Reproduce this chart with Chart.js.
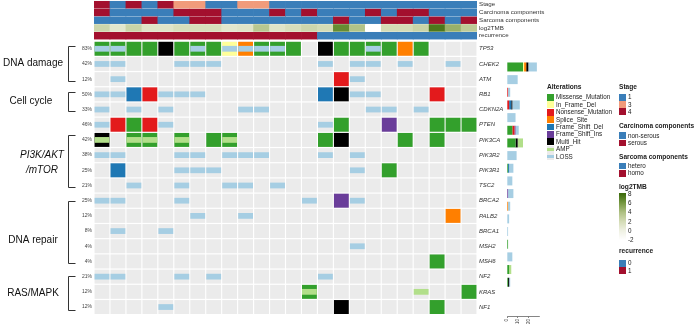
<!DOCTYPE html>
<html>
<head>
<meta charset="utf-8">
<title>Oncoprint</title>
<script src="https://cdn.jsdelivr.net/npm/chart.js@4.4.1/dist/chart.umd.min.js"></script>
<style>
  html, body { margin: 0; padding: 0; background: #fff; }
  body { position: relative; width: 694px; height: 325px; overflow: hidden; font-family: "Liberation Sans", Arial, sans-serif; }
  canvas { position: absolute; top: 0; }
  #oncoChart { left: 0; }
  #countChart { left: 500px; }
  .lg { position: absolute; white-space: nowrap; color: #222; font-size: 6.3px; height: 10px; line-height: 10px; }
  .lg.title { font-weight: bold; font-size: 6.6px; }
  .sw { position: absolute; }
</style>
</head>
<body>
<canvas id="oncoChart" width="694" height="325"></canvas>
<canvas id="countChart" width="44" height="325"></canvas>
<div id="legend"></div>
<script>
const FONT = '"Liberation Sans", Arial, sans-serif';
Chart.defaults.font.family = FONT;
Chart.defaults.color = '#333';

// samples (columns of the oncoprint)
const samples = ['P1', 'P2', 'P3', 'P4', 'P5', 'P6', 'P7', 'P8', 'P9', 'P10', 'P11', 'P12',
                 'P13', 'P14', 'P15', 'P16', 'P17', 'P18', 'P19', 'P20', 'P21', 'P22', 'P23', 'P24'];

const genes = ['TP53', 'CHEK2', 'ATM', 'RB1', 'CDKN2A', 'PTEN', 'PIK3CA', 'PIK3R2', 'PIK3R1',
               'TSC2', 'BRCA2', 'PALB2', 'BRCA1', 'MSH2', 'MSH6', 'NF2', 'KRAS', 'NF1'];
const pctLabels = ['83%', '42%', '12%', '50%', '33%', '46%', '42%', '38%', '25%',
                   '21%', '25%', '12%', '8%', '4%', '4%', '21%', '12%', '12%'];

// alterations per gene, samples in groups of 4
// M missense, I in-frame del, N nonsense, S splice, D frameshift del, F frameshift ins, X multi hit, A amp, L loss
const tp53   = 'ML ML M M | X M ML M | IL SL ML ML | M . X M | M ML M S | M . . .';
const chek2  = 'L L . . | . L L L | . . . . | . . L . | L L . L | . . L .';
const atm    = '. L . . | . . . . | . . . . | . . . N | L . . . | . . . .';
const rb1    = 'L L D N | L L L . | . . . . | . . D X | L L . . | . N . .';
const cdkn2a = 'L . L . | L . . . | . L L . | . . . . | . L L . | L . . .';
const pten   = 'L N M N | L . . . | . . . . | . . L M | . . F . | . M M M';
const pik3ca = 'XA . MA MA | . MA . M | MA . . . | . . M X | . . . M | . M . .';
const pik3r2 = 'L L . . | . L L . | L L L . | . . L . | L . . . | . . . .';
const pik3r1 = '. D . . | . L L L | . . . . | . . . . | L . M . | . . . .';
const tsc2   = '. . L . | . L . . | L L . L | . . . . | . . . . | . . . .';
const brca2  = 'L L . . | . L . . | . . . . | . L . F | L . . . | . . . .';
const palb2  = '. . . . | . . L . | . L . . | . . . . | . . . . | . . S .';
const brca1  = '. L . . | L . . . | . . . . | . . . . | . . . . | . . . .';
const msh2   = '. . . . | . . . . | . . . . | . . . . | L . . . | . . . .';
const msh6   = '. . . . | . . . . | . . . . | . . . . | . . . . | . M . .';
const nf2    = 'L L . . | . L . L | . . . . | . . L . | . . . . | . . . .';
const kras   = '. . . . | . . . . | . . . . | . MA . . | . . . . | A . . M';
const nf1    = '. . . . | L . . . | . . . . | . . . X | . . . . | . M . .';

// sample annotations
const stage = [4, 1, 4, 1, 4, 3, 3, 1, 1, 3, 3, 1, 1, 1, 1, 1, 1, 1, 1, 1, 1, 1, 1, 1];
const carcinoma = ['serous', 'non-serous', 'non-serous', 'non-serous', 'non-serous', 'serous', 'serous', 'serous',
                   'non-serous', 'non-serous', 'non-serous', 'serous', 'non-serous', 'serous', 'non-serous', 'non-serous',
                   'non-serous', 'serous', 'non-serous', 'serous', 'serous', 'non-serous', 'non-serous', 'non-serous'];
const sarcoma = ['hetero', 'hetero', 'hetero', 'homo', 'hetero', 'hetero', 'homo', 'homo',
                 'hetero', 'hetero', 'hetero', 'hetero', 'hetero', 'hetero', 'hetero', 'homo',
                 'hetero', 'hetero', 'homo', 'homo', 'hetero', 'homo', 'hetero', 'homo'];
const log2TMB = [2.4, 1.0, 2.6, 1.2, 1.2, 1.8, 1.8, 1.8, 1.0, 1.2, 3.5, 1.2,
                 1.8, 2.4, 2.0, 6.6, 3.8, -2.0, 2.0, 2.0, 2.6, 7.5, 4.8, 3.2];
const recurrence = [1, 1, 1, 1, 1, 1, 1, 1, 1, 1, 1, 1, 1, 1, 0, 0, 0, 0, 0, 0, 0, 0, 0, 0];

const annNames = ['Stage', 'Carcinoma components', 'Sarcoma components', 'log2TMB', 'recurrence'];

const altCodes = ['M', 'I', 'N', 'S', 'D', 'F', 'X', 'A', 'L'];
const altNames = ['Missense_Mutation', 'In_Frame_Del', 'Nonsense_Mutation', 'Splice_Site', 'Frame_Shift_Del',
                  'Frame_Shift_Ins', 'Multi_Hit', 'AMP', 'LOSS'];
const altColors = ['#33A02C', '#FFFF99', '#E31A1C', '#FF7F00', '#1F78B4', '#6A3D9A', '#000000', '#B2DF8A', '#A6CEE3'];
const bandCodes = ['A', 'L'];

const BLUE = '#3A7EB9', RED = '#A3102E', SALMON = '#F19B7B';
const stageLevels = [1, 3, 4];
const stageColors = [BLUE, SALMON, RED];
const tmbTicks = [8, 6, 4, 2, 0, -2];
const tmbStops = [-2, 0, 2, 4, 6, 8];
const tmbRamp = ['#FFFFFF', '#EFF1E3', '#D4DCB6', '#AEC083', '#779943', '#3E6C0E'];

function hexRgb(h) { return [1, 3, 5].map(i => parseInt(h.substr(i, 2), 16)); }
function tmbColor(v) {
  let i = 0;
  while (i < tmbStops.length - 2 && v > tmbStops[i + 1]) i++;
  const t = Math.max(0, Math.min(1, (v - tmbStops[i]) / (tmbStops[i + 1] - tmbStops[i])));
  const a = hexRgb(tmbRamp[i]), b = hexRgb(tmbRamp[i + 1]);
  return 'rgb(' + a.map((c, k) => Math.round(c + (b[k] - c) * t)).join(',') + ')';
}

const groups = [
  { name: ['DNA damage'] },
  { name: ['Cell cycle'] },
  { name: ['PI3K/AKT', '/mTOR'], italic: true },
  { name: ['DNA repair'] },
  { name: ['RAS/MAPK'] }
];
// bracket span / label anchor in row units
const groupLayout = [
  { top: -0.18, bottom: 2.12, labelY: 0.94, labelX: 33 },
  { top: 2.87, bottom: 4.10, labelY: 3.44, labelX: 31 },
  { top: 5.68, bottom: 9.08, labelY: 7.52, labelX: 42 },
  { top: 10.0, bottom: 14.12, labelY: 12.59, labelX: 33 },
  { top: 14.94, bottom: 17.2, labelY: 16.08, labelX: 33 }
];

// ---- build datasets
const matrix = [tp53, chek2, atm, rb1, cdkn2a, pten, pik3ca, pik3r2, pik3r1, tsc2, brca2, palb2,
                brca1, msh2, msh6, nf2, kras, nf1].map(s => s.replace(/\|/g, ' ').trim().split(/\s+/));

const yMin = -3.21, yMax = 17.59;
const cellHalf = 0.46, bandHalf = 0.19, annHalf = 0.225;
const annCenter = k => -2.90 + 0.51 * k;

function cellPoints(test, half) {
  const pts = [];
  matrix.forEach((row, g) => row.forEach((code, j) => {
    if (test(code)) pts.push({ x: samples[j], y: [g - half, g + half] });
  }));
  return pts;
}

const annColors = [
  stage.map(v => stageColors[stageLevels.indexOf(v)]),
  carcinoma.map(v => v === 'serous' ? RED : BLUE),
  sarcoma.map(v => v === 'homo' ? RED : BLUE),
  log2TMB.map(tmbColor),
  recurrence.map(v => v === 1 ? RED : BLUE)
];

const datasets = [];
annNames.forEach((name, k) => {
  datasets.push({
    label: name,
    data: samples.map(s => ({ x: s, y: [annCenter(k) - annHalf, annCenter(k) + annHalf] })),
    backgroundColor: annColors[k],
    barPercentage: 1,
    categoryPercentage: 1,
    order: 30
  });
});
datasets.push({
  label: 'background',
  data: cellPoints(() => true, cellHalf),
  backgroundColor: '#EBEBEB',
  barPercentage: 0.93,
  categoryPercentage: 1,
  inflateAmount: 0,
  order: 40
});
altCodes.forEach((code, t) => {
  const band = bandCodes.includes(code);
  datasets.push({
    label: altNames[t],
    data: cellPoints(c => c.includes(code), band ? bandHalf : cellHalf),
    backgroundColor: altColors[t],
    barPercentage: 0.93,
    categoryPercentage: 1,
    inflateAmount: 0,
    order: band ? 10 : 20
  });
});

const rightLabels = annNames.concat(genes);

const groupPlugin = {
  id: 'pathways',
  afterDraw(chart) {
    const { ctx } = chart;
    const y = chart.scales.y;
    ctx.save();
    ctx.strokeStyle = '#333';
    ctx.lineWidth = 1;
    ctx.fillStyle = '#111';
    ctx.textAlign = 'center';
    ctx.textBaseline = 'middle';
    groups.forEach((grp, i) => {
      const L = groupLayout[i];
      const top = Math.round(y.getPixelForValue(L.top)) + 0.5;
      const bot = Math.round(y.getPixelForValue(L.bottom)) + 0.5;
      ctx.beginPath();
      ctx.moveTo(75.5, top);
      ctx.lineTo(68.5, top);
      ctx.lineTo(68.5, bot);
      ctx.lineTo(75.5, bot);
      ctx.stroke();
      ctx.font = (grp.italic ? 'italic ' : '') + '10px ' + FONT;
      const cy = y.getPixelForValue(L.labelY);
      grp.name.forEach((ln, k) => {
        ctx.fillText(ln, L.labelX, cy + (k - (grp.name.length - 1) / 2) * 15);
      });
    });
    ctx.restore();
  }
};

new Chart(document.getElementById('oncoChart'), {
  type: 'bar',
  data: { labels: samples, datasets: datasets },
  options: {
    responsive: false,
    animation: false,
    events: [],
    layout: { padding: { left: 0, right: 132, top: 0, bottom: 9 } },
    plugins: { legend: { display: false }, tooltip: { enabled: false } },
    datasets: { bar: { grouped: false, borderWidth: 0 } },
    scales: {
      x: { display: false },
      y: {
        type: 'linear',
        position: 'left',
        reverse: true,
        min: yMin,
        max: yMax,
        grid: { display: false, drawTicks: false },
        border: { display: false },
        afterBuildTicks: s => { s.ticks = genes.map((g, i) => ({ value: i })); },
        afterFit: s => { s.width = 94; s.paddingTop = 0; s.paddingBottom = 0; },
        ticks: {
          autoSkip: false,
          padding: 2,
          color: '#444',
          font: { size: 5, family: FONT },
          callback: (v, i) => pctLabels[i]
        }
      },
      yr: {
        type: 'linear',
        position: 'right',
        reverse: true,
        min: yMin,
        max: yMax,
        grid: { display: false, drawTicks: false },
        border: { display: false },
        afterBuildTicks: s => {
          s.ticks = annNames.map((n, k) => ({ value: annCenter(k) })).concat(genes.map((g, i) => ({ value: i })));
        },
        afterFit: s => { s.width = 85; s.paddingTop = 0; s.paddingBottom = 0; },
        ticks: {
          autoSkip: false,
          padding: 2,
          color: '#333',
          font: ctx => ctx.index < annNames.length
            ? { size: 6.2, family: FONT }
            : { size: 6, style: 'italic', family: FONT },
          callback: (v, i) => rightLabels[i]
        }
      }
    }
  },
  plugins: [groupPlugin]
});

// ---- alteration counts per gene (right barplot)
const counts = altCodes.map(code => matrix.map(row => row.filter(c => c.includes(code)).length));

new Chart(document.getElementById('countChart'), {
  type: 'bar',
  data: {
    datasets: altCodes.map((code, t) => ({
      label: altNames[t],
      data: genes.map((g, i) => ({ x: counts[t][i], y: i })).filter(p => p.x > 0),
      backgroundColor: altColors[t],
      barThickness: 9,
      inflateAmount: 0
    }))
  },
  options: {
    indexAxis: 'y',
    responsive: false,
    animation: false,
    events: [],
    layout: { padding: { left: 7, right: 5, top: 0, bottom: 0 } },
    plugins: { legend: { display: false }, tooltip: { enabled: false } },
    scales: {
      x: {
        type: 'linear',
        position: 'bottom',
        stacked: true,
        min: 0,
        max: 30,
        grid: { display: true, drawOnChartArea: false, drawTicks: true, tickLength: 2, color: '#333', lineWidth: 0.6 },
        border: { display: true, color: '#333', width: 0.6 },
        afterBuildTicks: s => { s.ticks = [0, 10, 20].map(v => ({ value: v })); },
        afterFit: s => { s.height = 9; s.paddingLeft = 0; s.paddingRight = 0; },
        ticks: { autoSkip: false, minRotation: 90, maxRotation: 90, padding: 1, color: '#333', font: { size: 4.5, family: FONT } }
      },
      y: {
        type: 'linear',
        display: false,
        stacked: true,
        reverse: true,
        min: yMin,
        max: yMax
      }
    }
  }
});

// ---- legends
const legendEl = document.getElementById('legend');
function addText(txt, x, yc, cls) {
  const d = document.createElement('div');
  d.className = 'lg' + (cls ? ' ' + cls : '');
  d.textContent = txt;
  d.style.left = x + 'px';
  d.style.top = (yc - 5) + 'px';
  legendEl.appendChild(d);
}
function addSwatch(x, yc, color, band) {
  const d = document.createElement('div');
  d.className = 'sw';
  d.style.left = x + 'px';
  d.style.top = (yc - 3.4) + 'px';
  d.style.width = '7px';
  d.style.height = '6.8px';
  if (band) {
    d.style.background = '#EBEBEB';
    const b = document.createElement('div');
    b.style.cssText = 'position:absolute;left:0;top:2.1px;width:7px;height:2.6px;background:' + color;
    d.appendChild(b);
  } else {
    d.style.background = color;
  }
  legendEl.appendChild(d);
}
function addBlock(title, x, titleY, labels, colors, firstY, pitch) {
  addText(title, x, titleY, 'title');
  labels.forEach((lab, k) => {
    addSwatch(x, firstY + k * pitch, colors[k]);
    addText(String(lab), x + 9, firstY + k * pitch);
  });
}

addText('Alterations', 547, 87, 'title');
altNames.forEach((n, t) => {
  const yc = 97.3 + 7.42 * t;
  addSwatch(547, yc, altColors[t], bandCodes.includes(altCodes[t]));
  addText(n, 556, yc);
});

addBlock('Stage', 619, 87, stageLevels, stageColors, 97.2, 7.3);
addBlock('Carcinoma components', 619, 125.7, ['non-serous', 'serous'], [BLUE, RED], 135.6, 7.3);
addBlock('Sarcoma components', 619, 156.7, ['hetero', 'homo'], [BLUE, RED], 166, 7.4);

addText('log2TMB', 619, 186.7, 'title');
const tmbY = v => 194 + (8 - v) * 4.62;
const grad = document.createElement('div');
grad.className = 'sw';
grad.style.left = '619px';
grad.style.top = '193px';
grad.style.width = '7px';
grad.style.height = (tmbY(-2) - 193) + 'px';
grad.style.background = 'linear-gradient(to top, ' + tmbStops.map((v, i) =>
  tmbRamp[i] + ' ' + ((tmbY(-2) - tmbY(v)) / (tmbY(-2) - 193) * 100).toFixed(1) + '%').join(', ') + ')';
legendEl.appendChild(grad);
tmbTicks.forEach(v => addText(String(v), 628, tmbY(v)));

addBlock('recurrence', 619, 250.7, recurrence.filter((v, i, a) => a.indexOf(v) === i).sort(), [BLUE, RED], 263.3, 7.3);
</script>
</body>
</html>
